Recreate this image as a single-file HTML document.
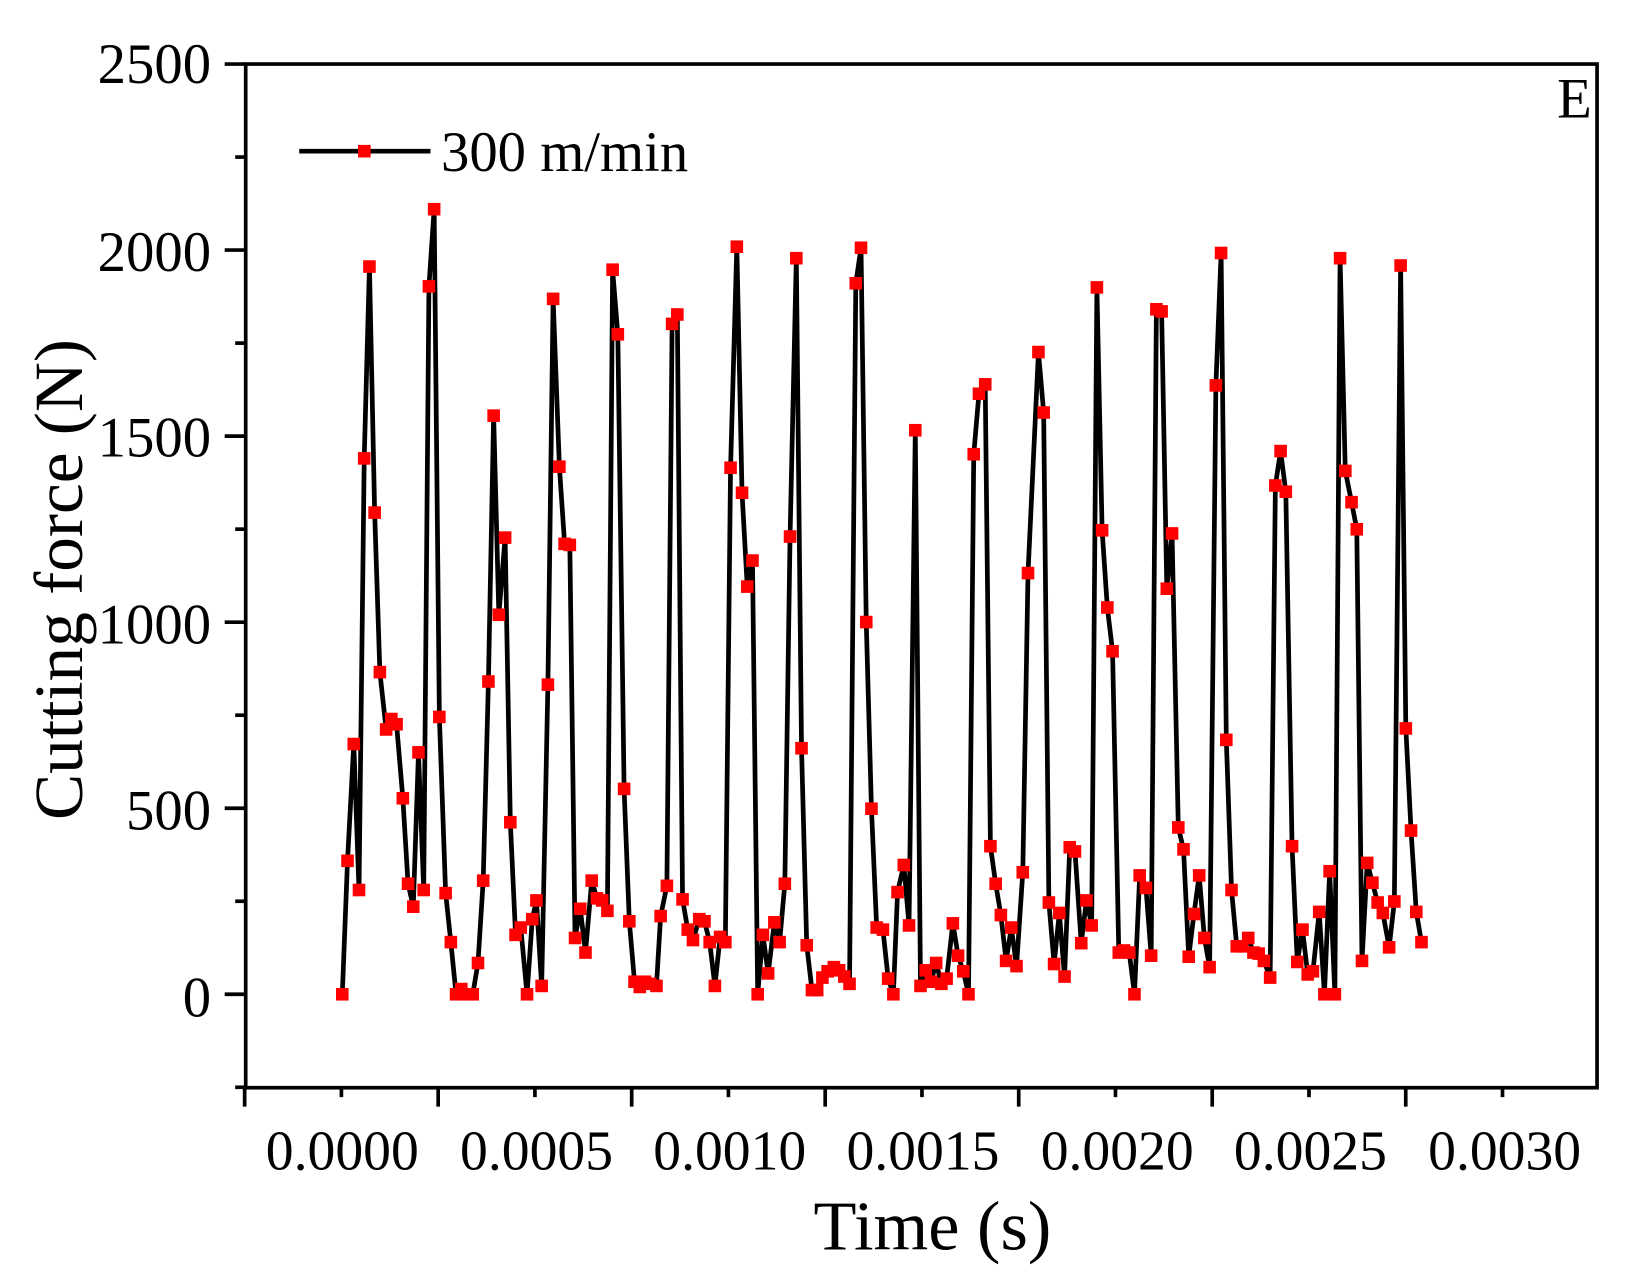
<!DOCTYPE html>
<html><head><meta charset="utf-8"><style>
html,body{margin:0;padding:0;background:#fff;}
svg{display:block;}
text{font-family:"Liberation Serif",serif;fill:#000;}
</style></head><body>
<svg id="s" width="1638" height="1283" viewBox="0 0 1560 1222" preserveAspectRatio="none" xmlns="http://www.w3.org/2000/svg">
<rect x="0" y="0" width="1560" height="1222" fill="#fff"/>
<rect x="234" y="61" width="1287" height="975" fill="none" stroke="#000" stroke-width="3.5"/>
<g id="ticks" stroke="#000" stroke-width="3.5"></g>
<g font-size="54" text-anchor="end">
<text x="201" y="79">2500</text>
<text x="201" y="258">2000</text>
<text x="201" y="435">1500</text>
<text x="201" y="613">1000</text>
<text x="201" y="790">500</text>
<text x="201" y="968">0</text>
</g>
<g font-size="53" text-anchor="middle">
<text x="326" y="1114">0.0000</text>
<text x="511" y="1114">0.0005</text>
<text x="695" y="1114">0.0010</text>
<text x="879" y="1114">0.0015</text>
<text x="1064" y="1114">0.0020</text>
<text x="1248" y="1114">0.0025</text>
<text x="1433" y="1114">0.0030</text>
</g>
<text x="888" y="1190" font-size="67" text-anchor="middle">Time (s)</text>
<text transform="translate(78,552) rotate(-90)" font-size="66" text-anchor="middle">Cutting force (N)</text>
<text x="1483" y="112" font-size="54">E</text>
<line x1="285" y1="144" x2="410" y2="144" stroke="#000" stroke-width="4.5"/>
<rect x="341" y="138" width="12" height="12" fill="#ff0000"/>
<text x="420" y="163" font-size="54">300 m/min</text>
<polyline id="pl" fill="none" stroke="#000" stroke-width="4.5" stroke-linejoin="round"/>
<g id="mk" fill="#ff0000"></g>
</svg>
<script>
var d=[326,952,331,824,337,712,342,852,347,438,352,254,357,490,362,643,368,698,373,688,378,693,384,764,389,846,394,868,399,720,404,852,409,273,414,199,419,686,425,855,430,902,435,952,440,947,446,952,451,952,456,922,461,843,466,652,471,397,476,588,482,514,487,787,492,895,497,888,503,952,508,880,512,862,517,944,523,655,528,285,534,446,539,520,544,521,549,898,554,870,559,912,565,843,570,860,575,862,580,872,585,257,590,319,596,755,601,882,606,940,611,945,616,940,621,942,627,944,631,877,637,848,642,309,647,300,652,861,657,890,662,900,668,880,673,882,678,902,683,944,688,897,693,902,698,447,704,235,709,471,714,561,719,536,724,952,729,895,734,932,740,883,745,902,750,846,755,513,761,246,766,716,771,905,776,948,781,948,786,936,791,930,797,926,802,929,807,935,812,942,818,270,823,236,828,595,833,774,838,888,844,890,849,937,854,952,858,854,864,828,869,886,875,411,880,944,885,929,890,940,895,922,900,942,905,937,911,884,916,915,921,930,926,952,931,434,936,376,942,367,947,810,952,846,957,876,962,920,967,888,972,925,978,835,983,548,993,336,998,394,1003,864,1008,923,1013,874,1018,935,1023,811,1028,815,1034,903,1039,862,1044,886,1049,274,1054,507,1059,581,1064,623,1070,912,1075,910,1080,912,1085,952,1090,838,1096,850,1101,915,1106,295,1111,297,1116,563,1121,510,1127,792,1132,813,1137,916,1142,875,1147,838,1152,898,1157,926,1163,368,1168,241,1173,708,1178,852,1183,906,1188,906,1194,898,1199,912,1204,913,1209,920,1215,936,1220,464,1225,431,1230,470,1236,810,1241,921,1246,890,1251,933,1256,930,1262,873,1267,952,1272,834,1277,952,1282,246,1287,450,1293,480,1298,506,1303,920,1308,826,1313,845,1318,864,1323,874,1329,907,1334,863,1340,253,1345,697,1350,795,1355,873,1360,902];
var ns="http://www.w3.org/2000/svg",pts=[],mk=document.getElementById('mk');
for(var i=0;i<d.length;i+=2){var x=326+(d[i]-326)*0.994,y=236+(d[i+1]-236)*0.993;pts.push(x+','+y);var r=document.createElementNS(ns,'rect');r.setAttribute('x',x-6);r.setAttribute('y',y-6);r.setAttribute('width',12);r.setAttribute('height',12);mk.appendChild(r);}
document.getElementById('pl').setAttribute('points',pts.join(' '));
var t=document.getElementById('ticks');
function ln(a,b,c,e){var l=document.createElementNS(ns,'line');l.setAttribute('x1',a);l.setAttribute('y1',b);l.setAttribute('x2',c);l.setAttribute('y2',e);t.appendChild(l);}
for(var k=0;k<=14;k++){var x=233+92.15*k;if(x>1522)break;ln(x,1036,x,k%2?1045:1054);}
for(var k=0;k<=11;k++){var y=61+88.6*k;ln(234,y,k%2?224:214,y);}
</script>
</body></html>
